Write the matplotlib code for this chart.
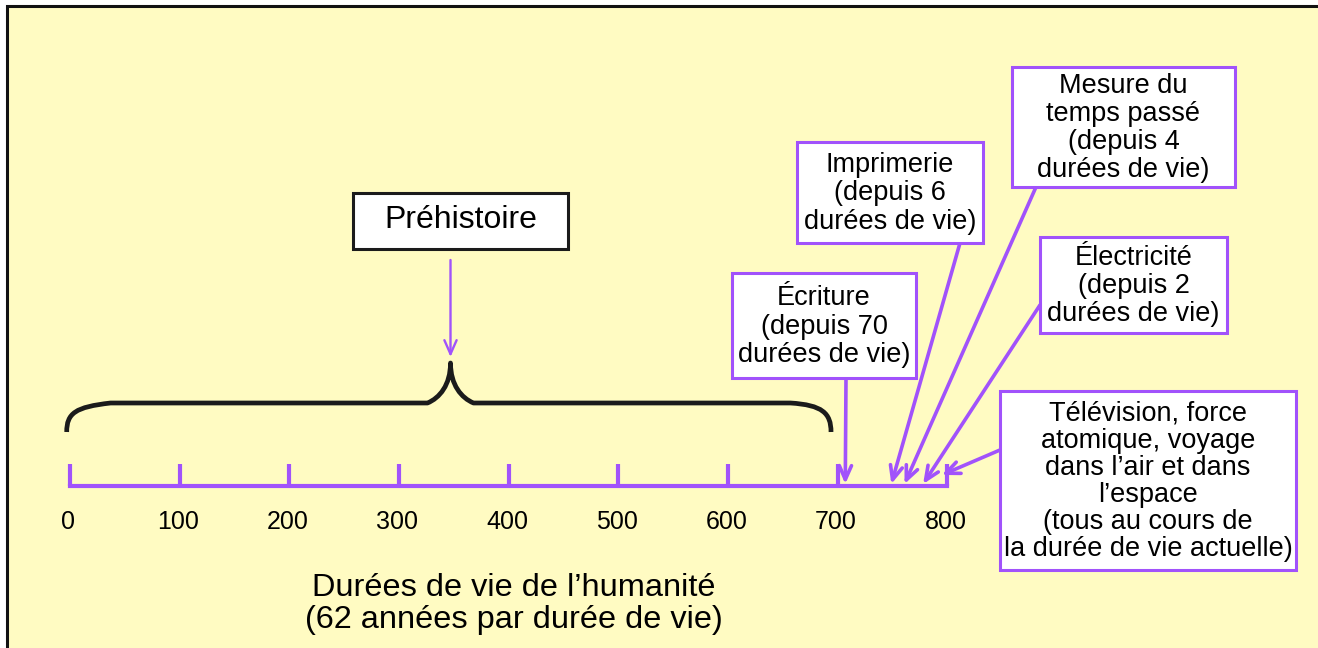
import matplotlib
matplotlib.use('Agg')
import matplotlib.pyplot as plt
import matplotlib.patches as mpatches
import matplotlib.transforms as mtransforms
from matplotlib.path import Path

plt.rcParams['font.family'] = ['Liberation Sans', 'DejaVu Sans']

# graduations (durées de vie de l'humanité)
graduations = [0, 100, 200, 300, 400, 500, 600, 700, 800]

# événements et leur position sur l'échelle
evenements = ['Écriture\n(depuis 70\ndurées de vie)',
              'Imprimerie\n(depuis 6\ndurées de vie)',
              'Mesure du\ntemps passé\n(depuis 4\ndurées de vie)',
              'Électricité\n(depuis 2\ndurées de vie)',
              'Télévision, force\natomique, voyage\ndans l’air et dans\nl’espace\n(tous au cours de\nla durée de vie actuelle)']
positions = [707, 749, 761, 778, 795]

prehistoire = 'Préhistoire'
prehist_debut, prehist_milieu, prehist_fin = -3, 347, 694

titre = 'Durées de vie de l’humanité\n(62 années par durée de vie)'

# mise en page (pixels, origine en haut à gauche)
boites = [(732, 273, 916, 378), (797, 142, 983, 243), (1012, 67, 1235, 187),
          (1040, 237, 1227, 333), (1000, 391, 1296, 570)]
departs = [(846, 378), (960, 243), (1036, 187), (1040, 305), (1000, 450)]
fin_y = [484, 484, 484, 484, 475]
interligne = [1.12, 1.12, 1.11, 1.12, 1.05]

jaune = '#fffbc2'
violet = '#a152fb'
noir = '#1b1b1b'

W, H = 1318, 648
fig = plt.figure(figsize=(W / 100, H / 100), dpi=100)
fig.patch.set_facecolor('white')
ax = fig.add_axes([0, 0, 1, 1])
ax.set_xlim(-63.83, 1138.1)
ax.set_ylim(H, 0)
ax.axis('off')

px = mtransforms.Affine2D().scale(1 / W, -1 / H).translate(0, 1) + fig.transFigure

# fond jaune avec bordure
ax.add_patch(mpatches.Rectangle((6.5, 5.5), 1400, 700, transform=px, fc=jaune,
                                ec='#111111', lw=2.2, zorder=0, clip_on=False))

# échelle
axe_y = 486
ax.plot([graduations[0], graduations[-1]], [axe_y, axe_y], color=violet, lw=3,
        solid_capstyle='projecting', zorder=3)
for g in graduations:
    ax.plot([g, g], [464, axe_y], color=violet, lw=3, solid_capstyle='butt', zorder=3)
    ax.text(g - 1.5, 522, str(g), ha='center', va='center', fontsize=18, color='black')

ax.text(514, 604, titre, transform=px, ha='center', va='center', fontsize=23.4,
        linespacing=1.12)

# accolade de la préhistoire
P, L, R = prehist_milieu, prehist_debut, prehist_fin
verts = [(L, 432), (L, 413), (L + 8, 407), (L + 40, 403),
         (P - 21, 403),
         (P - 10, 398), (P, 385), (P, 363),
         (P, 385), (P + 10, 398), (P + 21, 403),
         (R - 37, 403),
         (R - 8, 405), (R, 413), (R, 432)]
codes = [Path.MOVETO, Path.CURVE4, Path.CURVE4, Path.CURVE4,
         Path.LINETO,
         Path.CURVE4, Path.CURVE4, Path.CURVE4,
         Path.CURVE4, Path.CURVE4, Path.CURVE4,
         Path.LINETO,
         Path.CURVE4, Path.CURVE4, Path.CURVE4]
ax.add_patch(mpatches.PathPatch(Path(verts, codes), fc='none', ec=noir, lw=3.4,
                                capstyle='butt', joinstyle='round', zorder=3))

ax.add_patch(mpatches.Rectangle((353, 193), 215, 56, transform=px, fc='white',
                                ec=noir, lw=2.2, zorder=4))
ax.text(461, 220, prehistoire, transform=px, ha='center', va='center', fontsize=23,
        zorder=5)
ax.annotate('', xy=(P, 357), xytext=(P, 260),
            arrowprops=dict(arrowstyle='->,head_length=0.5,head_width=0.22',
                            color=violet, lw=1.7, shrinkA=0, shrinkB=0,
                            mutation_scale=20), zorder=4)

# boîtes des événements
for lab, pos, (x0, y0, x1, y1), dep, fy, ls in zip(evenements, positions, boites,
                                                   departs, fin_y, interligne):
    ax.add_patch(mpatches.Rectangle((x0, y0), x1 - x0, y1 - y0, transform=px,
                                    fc='white', ec=violet, lw=2.2, zorder=4))
    ax.text((x0 + x1) / 2, (y0 + y1) / 2 + 1, lab, transform=px, ha='center',
            va='center', fontsize=19.5, linespacing=ls, zorder=5)
    ax.annotate('', xy=(pos, fy), xycoords='data', xytext=dep, textcoords=px,
                arrowprops=dict(arrowstyle='->,head_length=0.5,head_width=0.22',
                                color=violet, lw=2.6, shrinkA=0, shrinkB=0,
                                mutation_scale=20), zorder=3)

fig.savefig('out.png', dpi=100, facecolor=fig.get_facecolor())
